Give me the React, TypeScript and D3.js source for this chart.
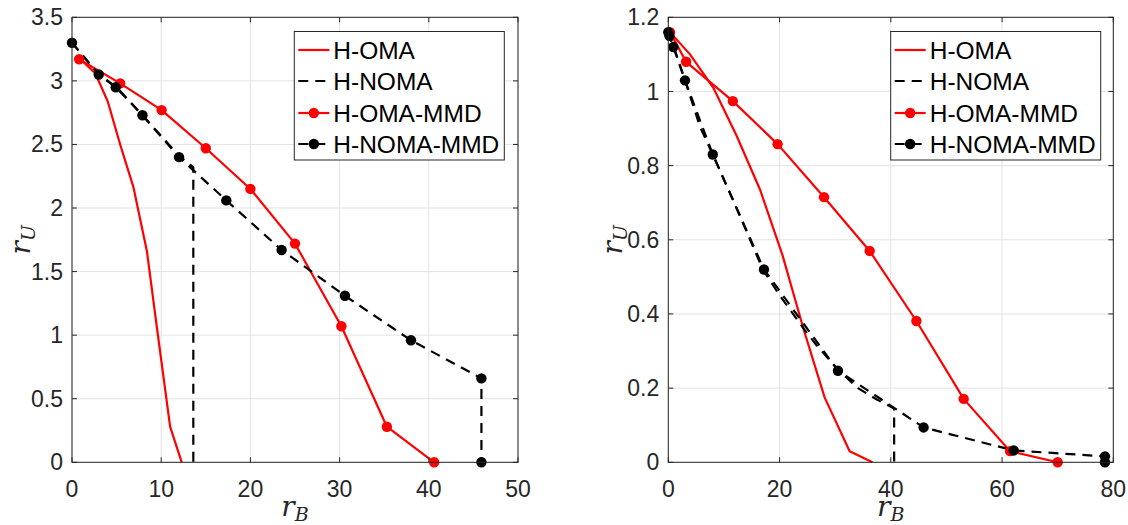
import React from "react";
import * as d3 from "d3";

// ---------- data: left panel ----------
const L_XTICKS = [0, 10, 20, 30, 40, 50];
const L_YTICKS = [0, 0.5, 1, 1.5, 2, 2.5, 3, 3.5];
const L_HOMA_X = [0.8, 2.6, 4.0, 5.4, 6.9, 8.4, 9.5, 11.0, 12.3];
const L_HOMA_Y = [3.18, 3.06, 2.84, 2.5, 2.16, 1.66, 1.07, 0.28, 0];
const L_HNOMA_X = [0, 3, 5, 7.9, 12, 13.6, 13.6];
const L_HNOMA_Y = [3.3, 3.05, 2.95, 2.73, 2.41, 2.32, 0];
const L_HOMAMMD_X = [0.8, 5.4, 10.05, 15.0, 20.0, 25.0, 30.2, 35.3, 40.6];
const L_HOMAMMD_Y = [3.17, 2.98, 2.77, 2.47, 2.15, 1.72, 1.07, 0.28, 0];
const L_HNOMAMMD_X = [0, 3.0, 4.9, 7.9, 12.0, 17.3, 23.5, 30.6, 38.0, 45.9, 45.9];
const L_HNOMAMMD_Y = [3.3, 3.05, 2.95, 2.73, 2.4, 2.06, 1.67, 1.31, 0.96, 0.66, 0];

// ---------- data: right panel ----------
const R_XTICKS = [0, 20, 40, 60, 80];
const R_YTICKS = [0, 0.2, 0.4, 0.6, 0.8, 1, 1.2];
const R_HOMA_X = [0.3, 3.9, 8.1, 12.3, 16.5, 20.5, 24.3, 28.1, 32.6, 36.7];
const R_HOMA_Y = [1.16, 1.1, 1.01, 0.88, 0.735, 0.56, 0.36, 0.175, 0.03, 0];
const R_HNOMA_X = [0, 1, 3, 5.7, 8, 11.7, 17, 19.8, 22.2, 24.6, 26.7, 30.5, 34.1, 37.4, 40.6, 40.6];
const R_HNOMA_Y = [1.16, 1.12, 1.03, 0.905, 0.83, 0.705, 0.52, 0.455, 0.405, 0.355, 0.315, 0.25, 0.2, 0.17, 0.145, 0];
const R_HOMAMMD_X = [0.3, 3.2, 11.6, 19.65, 28.0, 36.2, 44.6, 53.1, 61.45, 70.0];
const R_HOMAMMD_Y = [1.16, 1.08, 0.974, 0.858, 0.715, 0.57, 0.381, 0.171, 0.03, 0];
const R_HNOMAMMD_X = [0, 0.2, 0.9, 3.0, 8.0, 17.2, 30.5, 45.9, 62.1, 78.5, 78.5];
const R_HNOMAMMD_Y = [1.16, 1.15, 1.12, 1.03, 0.83, 0.52, 0.247, 0.094, 0.032, 0.016, 0];

const LEGEND = ["H-OMA", "H-NOMA", "H-OMA-MMD", "H-NOMA-MMD"];

const FONT = "'Liberation Sans', Arial, Helvetica, sans-serif";
const AXC = "#262626";

type Series = { x: number[]; y: number[]; color: string; dash?: string; marker: boolean };

function zip(x: number[], y: number[]): [number, number][] {
  return x.map((v, i) => [v, y[i]]);
}

function Panel(props: {
  left: number; right: number; top: number; bottom: number;
  xmax: number; ymax: number; xticks: number[]; yticks: number[];
  series: Series[]; legendX: number; ylabelX: number;
}) {
  const { left, right, top, bottom, xmax, ymax, xticks, yticks, series, legendX, ylabelX } = props;
  const xs = d3.scaleLinear().domain([0, xmax]).range([left, right]);
  const ys = d3.scaleLinear().domain([0, ymax]).range([bottom, top]);
  const line = d3.line<[number, number]>().x((d) => xs(d[0])).y((d) => ys(d[1]));
  const tl = 5;
  const fmt = (v: number) => String(v);
  const legTop = 31.5, legW = 210, legH = 128.5;
  const rowY = [50, 81, 113, 144];
  return (
    <g>
      {xticks.map((t) => (
        <line key={"gx" + t} x1={xs(t)} x2={xs(t)} y1={top} y2={bottom} stroke="#e3e3e3" strokeWidth={1} />
      ))}
      {yticks.map((t) => (
        <line key={"gy" + t} x1={left} x2={right} y1={ys(t)} y2={ys(t)} stroke="#e3e3e3" strokeWidth={1} />
      ))}
      {series.map((s, i) => (
        <path key={"s" + i} d={line(zip(s.x, s.y)) || ""} fill="none" stroke={s.color} strokeWidth={2.2}
          strokeDasharray={s.dash} strokeLinejoin="round" />
      ))}
      {series.map((s, i) =>
        s.marker ? (
          <g key={"m" + i}>
            {zip(s.x, s.y).map((d, j) => (
              <circle key={j} cx={xs(d[0])} cy={ys(d[1])} r={5.2} fill={s.color} />
            ))}
          </g>
        ) : null
      )}
      <rect x={left} y={top} width={right - left} height={bottom - top} fill="none" stroke={AXC} strokeWidth={1} />
      {xticks.map((t) => (
        <g key={"tx" + t}>
          <line x1={xs(t)} x2={xs(t)} y1={bottom} y2={bottom - tl} stroke={AXC} />
          <line x1={xs(t)} x2={xs(t)} y1={top} y2={top + tl} stroke={AXC} />
          <text x={xs(t)} y={497} textAnchor="middle" fontFamily={FONT} fontSize={23} fill={AXC}>{fmt(t)}</text>
        </g>
      ))}
      {yticks.map((t) => (
        <g key={"ty" + t}>
          <line x1={left} x2={left + tl} y1={ys(t)} y2={ys(t)} stroke={AXC} />
          <line x1={right} x2={right - tl} y1={ys(t)} y2={ys(t)} stroke={AXC} />
          <text x={left - 9} y={ys(t)} dy="0.35em" textAnchor="end" fontFamily={FONT} fontSize={23} fill={AXC}>{fmt(t)}</text>
        </g>
      ))}
      <text x={(left + right) / 2} y={516} textAnchor="middle" fontFamily="'DejaVu Serif', serif" fontStyle="italic" fontSize={28} fill={AXC}>
        r<tspan fontSize={19} dy={5}>B</tspan>
      </text>
      <text transform={`translate(${ylabelX},${(top + bottom) / 2}) rotate(-90)`} textAnchor="middle"
        fontFamily="'DejaVu Serif', serif" fontStyle="italic" fontSize={28} fill={AXC}>
        r<tspan fontSize={19} dy={5}>U</tspan>
      </text>
      <rect x={legendX} y={legTop} width={legW} height={legH} fill="#fff" stroke={AXC} strokeWidth={1} />
      {series.map((s, i) => (
        <g key={"lg" + i}>
          <line x1={legendX + 4} x2={legendX + 35} y1={rowY[i]} y2={rowY[i]} stroke={s.color} strokeWidth={2.2} strokeDasharray={s.dash} />
          {s.marker && <circle cx={legendX + 19.5} cy={rowY[i]} r={5.2} fill={s.color} />}
          <text x={legendX + 39} y={rowY[i]} dy="0.36em" fontFamily={FONT} fontSize={24.5} fill="#000">{LEGEND[i]}</text>
        </g>
      ))}
    </g>
  );
}

export default function App() {
  const dash = "10,7";
  const leftSeries: Series[] = [
    { x: L_HOMA_X, y: L_HOMA_Y, color: "#ff0000", marker: false },
    { x: L_HNOMA_X, y: L_HNOMA_Y, color: "#000000", dash, marker: false },
    { x: L_HOMAMMD_X, y: L_HOMAMMD_Y, color: "#ff0000", marker: true },
    { x: L_HNOMAMMD_X, y: L_HNOMAMMD_Y, color: "#000000", dash, marker: true },
  ];
  const rightSeries: Series[] = [
    { x: R_HOMA_X, y: R_HOMA_Y, color: "#ff0000", marker: false },
    { x: R_HNOMA_X, y: R_HNOMA_Y, color: "#000000", dash, marker: false },
    { x: R_HOMAMMD_X, y: R_HOMAMMD_Y, color: "#ff0000", marker: true },
    { x: R_HNOMAMMD_X, y: R_HNOMAMMD_Y, color: "#000000", dash, marker: true },
  ];
  return (
    <svg width={1128} height={525} style={{ position: "absolute", left: 0, top: 0, background: "#fff" }}>
      <rect x={0} y={0} width={1128} height={525} fill="#fff" />
      <Panel left={72} right={518} top={17.3} bottom={462.3} xmax={50} ymax={3.5}
        xticks={L_XTICKS} yticks={L_YTICKS} series={leftSeries} legendX={294.3} ylabelX={30} />
      <Panel left={668.3} right={1113.3} top={17.3} bottom={462.3} xmax={80} ymax={1.2}
        xticks={R_XTICKS} yticks={R_YTICKS} series={rightSeries} legendX={890.7} ylabelX={622} />
    </svg>
  );
}
